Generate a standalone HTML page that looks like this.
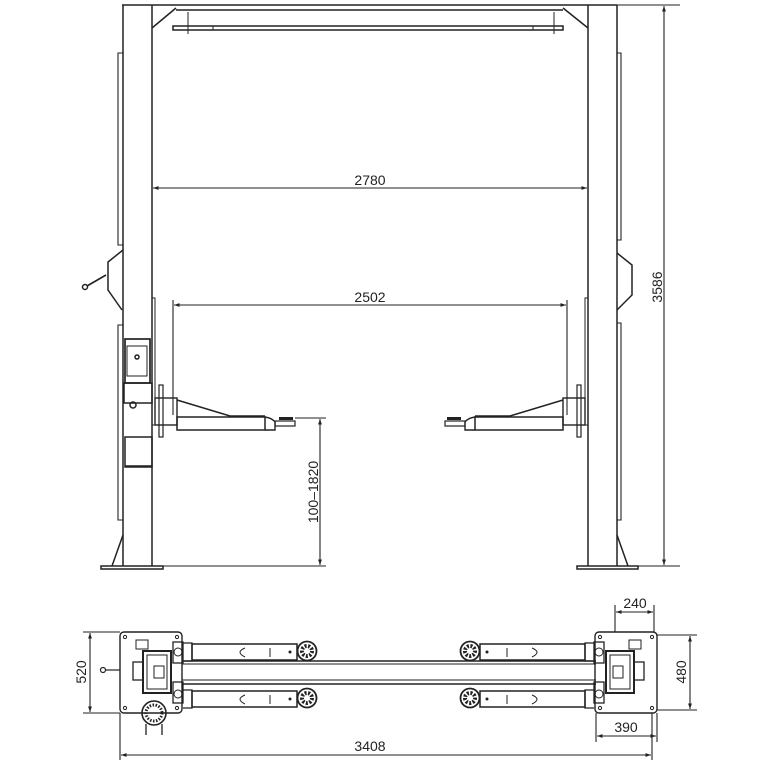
<!DOCTYPE html>
<html><head><meta charset="utf-8"><style>
html,body{margin:0;padding:0;background:#fff}
svg{display:block}
text{font-family:"Liberation Sans",sans-serif;fill:#222}
</style></head><body>
<svg width="768" height="768" viewBox="0 0 768 768" xmlns="http://www.w3.org/2000/svg">
<defs>
<marker id="a" viewBox="0 0 10 10" refX="10" refY="5" markerWidth="7" markerHeight="5" orient="auto-start-reverse"><path d="M0,1.5 L10,5 L0,8.5z" fill="#222"/></marker>
<g id="arm">
  <rect x="152" y="298" width="3" height="127" fill="none" stroke="#222" stroke-width="1"/>
  <rect x="155" y="398" width="22" height="27" fill="none" stroke="#222" stroke-width="1.4"/>
  <rect x="159" y="385" width="4" height="52" fill="none" stroke="#222" stroke-width="1.2"/>
  <path d="M177,400 L230,416 L265,416" fill="none" stroke="#222" stroke-width="1.5"/>
  <rect x="177" y="417" width="88" height="13" fill="none" stroke="#222" stroke-width="1.5"/>
  <path d="M265,417 Q272,418 275,422 L275,430 L265,430" fill="none" stroke="#222" stroke-width="1.4"/>
  <rect x="275" y="421" width="20" height="5" fill="none" stroke="#222" stroke-width="1.2"/>
  <rect x="279" y="417" width="14" height="3" fill="#222"/>
</g>
<g id="base">
  <rect x="0" y="0" width="62" height="81" rx="4" fill="none" stroke="#222" stroke-width="1.4"/>
  <circle cx="5" cy="5" r="1.6" fill="none" stroke="#222"/>
  <circle cx="57" cy="5" r="1.6" fill="none" stroke="#222"/>
  <circle cx="5" cy="76" r="1.6" fill="none" stroke="#222"/>
  <circle cx="57" cy="76" r="1.6" fill="none" stroke="#222"/>
  <rect x="23" y="19" width="28" height="42" fill="none" stroke="#222" stroke-width="2"/>
  <rect x="27" y="23" width="20" height="34" fill="none" stroke="#222" stroke-width="1"/>
  <rect x="34" y="34" width="10" height="12" fill="none" stroke="#222" stroke-width="1"/>
  <rect x="13" y="30" width="10" height="18" fill="none" stroke="#222" stroke-width="1.3"/>
  <rect x="16" y="8" width="12" height="9" fill="none" stroke="#222" stroke-width="1"/>
  <rect x="53" y="10" width="10" height="21" fill="none" stroke="#222" stroke-width="1.3"/>
  <rect x="53" y="50" width="10" height="21" fill="none" stroke="#222" stroke-width="1.3"/>
  <circle cx="58" cy="20" r="4" fill="none" stroke="#222"/>
  <circle cx="58" cy="62" r="4" fill="none" stroke="#222"/>
</g>
<g id="parm">
  <path d="M63,11 L72,11 L72,29 L63,29" fill="none" stroke="#222" stroke-width="1.3"/>
  <rect x="72" y="12" width="105" height="16" fill="none" stroke="#222" stroke-width="1.5"/>
  <path d="M150,16 L150,25" stroke="#222"/>
  <path d="M125,16 Q115,20 125,25" fill="none" stroke="#222"/>
  <circle cx="170" cy="20" r="1.5" fill="#222"/>
  <circle cx="187" cy="19" r="9.5" fill="none" stroke="#222" stroke-width="1.8"/>
  <circle cx="187" cy="19" r="5" fill="none" stroke="#222" stroke-width="4" stroke-dasharray="2,1.5"/>
</g>
</defs>
<g stroke="#222" fill="none" stroke-width="1.5">
<line x1="122" y1="5" x2="617" y2="5"/>
<line x1="176" y1="10" x2="563" y2="10"/>
<path d="M152,28 L176,8 M588,28 L563,8"/>
<rect x="173" y="26" width="390" height="4"/>
<rect x="213" y="26" width="320" height="4" stroke-width="1"/>
<line x1="188" y1="12" x2="188" y2="34" stroke-width="1"/>
<line x1="554" y1="12" x2="554" y2="34" stroke-width="1"/>
<line x1="123" y1="5" x2="123" y2="566"/>
<line x1="152" y1="5" x2="152" y2="566"/>
<line x1="588" y1="5" x2="588" y2="566"/>
<line x1="617" y1="5" x2="617" y2="566"/>
<path d="M123,53 L118,53 L118,245 L123,245 M123,325 L118,325 L118,520 L123,520" stroke-width="1.1"/>
<path d="M617,53 L621,53 L621,240 L617,240 M617,323 L621,323 L621,520 L617,520" stroke-width="1.1"/>
<path d="M123,250 L108,262 L108,290 L122,310"/>
<path d="M617,253 L632,265 L632,295 L617,310"/>
<line x1="87" y1="286" x2="106" y2="275" stroke-width="1.6"/>
<circle cx="85" cy="287" r="2.5"/>
<path d="M123,535 L112,566 M617,535 L628,566"/>
<rect x="101" y="566" width="62" height="3"/>
<rect x="577" y="566" width="61" height="3"/>
<rect x="125" y="339" width="25" height="44" stroke-width="1.7"/>
<rect x="127" y="346" width="20" height="30" stroke-width="1"/>
<circle cx="137" cy="357" r="2"/>
<rect x="124" y="383" width="28" height="20"/>
<circle cx="133" cy="405" r="3"/>
<rect x="125" y="437" width="27" height="30"/>
<line x1="125" y1="466" x2="152" y2="466"/>
</g>
<use href="#arm"/>
<use href="#arm" transform="translate(740,0) scale(-1,1)"/>
<g stroke="#222" stroke-width="1.1" fill="none">
<line x1="153" y1="188" x2="587" y2="188" marker-start="url(#a)" marker-end="url(#a)"/>
<line x1="173" y1="300" x2="173" y2="415"/>
<line x1="567" y1="300" x2="567" y2="415"/>
<line x1="174" y1="305" x2="566" y2="305" marker-start="url(#a)" marker-end="url(#a)"/>
<line x1="295" y1="418" x2="326" y2="418"/>
<line x1="163" y1="566" x2="326" y2="566"/>
<line x1="320" y1="419" x2="320" y2="565" marker-start="url(#a)" marker-end="url(#a)"/>
<line x1="617" y1="5" x2="680" y2="5"/>
<line x1="638" y1="566" x2="680" y2="566"/>
<line x1="664" y1="6" x2="664" y2="565" marker-start="url(#a)" marker-end="url(#a)"/>
</g>
<text x="370" y="185" font-size="14" text-anchor="middle">2780</text>
<text x="370" y="302" font-size="14" text-anchor="middle">2502</text>
<text transform="translate(318,492) rotate(-90)" font-size="14" text-anchor="middle">100–1820</text>
<text transform="translate(662,287) rotate(-90)" font-size="14" text-anchor="middle">3586</text>
<g stroke="#222" fill="none">
<line x1="182" y1="661" x2="596" y2="661" stroke-width="1.6"/>
<line x1="182" y1="664" x2="596" y2="664" stroke-width="1"/>
<line x1="182" y1="680" x2="596" y2="680" stroke-width="1"/>
<line x1="182" y1="684" x2="596" y2="684" stroke-width="1.6"/>
<circle cx="154" cy="713" r="12" stroke-width="1.6"/>
<circle cx="154" cy="713" r="8" stroke-width="3" stroke-dasharray="1.5,1.5"/>
<path d="M146,724 L146,735 M162,724 L162,735" stroke-width="1.3"/>
<circle cx="103" cy="670" r="2.5" stroke-width="1.2"/>
<line x1="106" y1="670" x2="120" y2="670" stroke-width="1.2"/>
</g>
<use href="#base" transform="translate(120,632)"/>
<use href="#parm" transform="translate(120,632)"/>
<use href="#parm" transform="translate(120,679)"/>
<use href="#base" transform="translate(657,632) scale(-1,1)"/>
<use href="#parm" transform="translate(657,632) scale(-1,1)"/>
<use href="#parm" transform="translate(657,679) scale(-1,1)"/>
<g stroke="#222" stroke-width="1.1" fill="none">
<line x1="83" y1="632" x2="120" y2="632"/>
<line x1="83" y1="713" x2="120" y2="713"/>
<line x1="90" y1="633" x2="90" y2="712" marker-start="url(#a)" marker-end="url(#a)"/>
<line x1="120" y1="713" x2="120" y2="760"/>
<line x1="652" y1="713" x2="652" y2="760"/>
<line x1="121" y1="755" x2="651" y2="755" marker-start="url(#a)" marker-end="url(#a)"/>
<line x1="615" y1="605" x2="615" y2="632"/>
<line x1="654" y1="605" x2="654" y2="632"/>
<line x1="616" y1="612" x2="653" y2="612" marker-start="url(#a)" marker-end="url(#a)"/>
<line x1="657" y1="635" x2="697" y2="635"/>
<line x1="657" y1="710" x2="697" y2="710"/>
<line x1="690" y1="636" x2="690" y2="709" marker-start="url(#a)" marker-end="url(#a)"/>
<line x1="596" y1="713" x2="596" y2="742"/>
<line x1="657" y1="713" x2="657" y2="742"/>
<line x1="597" y1="736" x2="656" y2="736" marker-start="url(#a)" marker-end="url(#a)"/>
</g>
<text x="370" y="751" font-size="14" text-anchor="middle">3408</text>
<text x="635" y="608" font-size="14" text-anchor="middle">240</text>
<text x="626" y="732" font-size="14" text-anchor="middle">390</text>
<text transform="translate(86,672) rotate(-90)" font-size="14" text-anchor="middle">520</text>
<text transform="translate(686,672) rotate(-90)" font-size="14" text-anchor="middle">480</text>
</svg>
</body></html>
